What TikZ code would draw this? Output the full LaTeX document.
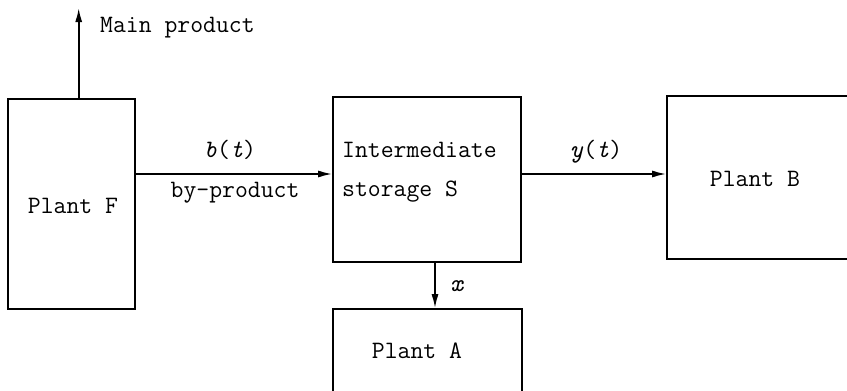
\documentclass[tikz,border=0pt]{standalone}
\usepackage{fontspec}
\usetikzlibrary{arrows.meta}
\begin{document}
\begin{tikzpicture}[x=1pt,y=-1pt,
  box/.style={draw,line width=1.7pt,inner sep=0pt},
  arr/.style={line width=1.7pt,-{Latex[length=14pt,width=7pt]}},
  lbl/.style={inner sep=0pt,font=\ttfamily\fontsize{25}{39}\selectfont}]
\useasboundingbox (0,0) rectangle (847,391);
\clip (0,0) rectangle (847,391);
% boxes
\node[box,minimum width=127pt,minimum height=210pt] (F) at (71.5,204) {};
\node[box,minimum width=188pt,minimum height=165pt] (S) at (427,179.5) {};
\node[box,minimum width=183pt,minimum height=163pt] (B) at (758.5,177.5) {};
\node[box,minimum width=189pt,minimum height=120pt] (A) at (427.5,369) {};
% box texts
\node[lbl,anchor=base] (Ft) at (73,213) {Plant F};
\node[lbl,anchor=base west,align=left] (St) at (342,196) {Intermediate\\storage S};
\node[lbl,anchor=base] (Bt) at (755,186) {Plant B};
\node[lbl,anchor=base] (At) at (417,358) {Plant A};
% connector coordinates
\coordinate (mp) at (78.7,8);
\coordinate (bt) at (0,174);
\coordinate (xa) at (435,0);
% connectors
\draw[arr] (F.north -| mp) -- (mp);
\draw[arr] (F.east |- bt) -- (S.west |- bt);
\draw[arr] (S.east |- bt) -- (B.west |- bt);
\draw[arr] (S.south -| xa) -- (A.north -| xa);
% connector labels
\node[lbl,anchor=base west] (mpl) at (100,32) {Main product};
\node[lbl,anchor=base] (btl) at (230,157) {\textit{b}(\textit{t})};
\node[lbl,anchor=base] (bpl) at (235,197) {by-product};
\node[lbl,anchor=base] (ytl) at (596,157) {\textit{y}(\textit{t})};
\node[lbl,anchor=base] (xl) at (457,291) {\textit{x}};
\end{tikzpicture}
\end{document}
